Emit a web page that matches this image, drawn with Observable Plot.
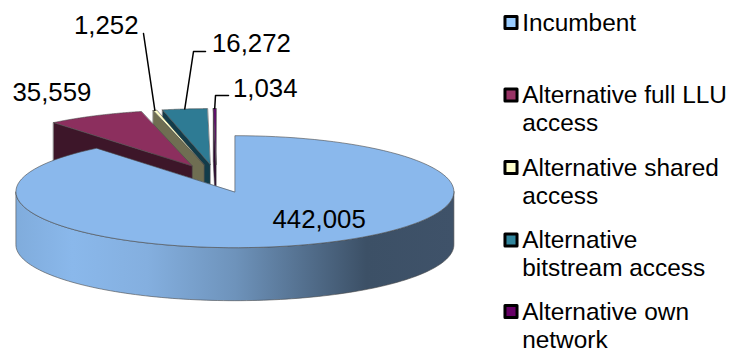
<!DOCTYPE html>
<html>
<head>
<meta charset="utf-8">
<style>
  html, body { margin: 0; padding: 0; background: #fff; }
  svg { display: block; }
</style>
<script src="https://cdn.jsdelivr.net/npm/d3@7"></script>
<script src="https://cdn.jsdelivr.net/npm/@observablehq/plot@0.6"></script>
</head>
<body>
<script>
// Broadband lines by access type
const categories = ["Incumbent", "Alternative full LLU access", "Alternative shared access", "Alternative bitstream access", "Alternative own network"];
const lines = [442005, 35559, 1252, 16272, 1034];

// Face colours per category
const topColors = ["#8ab8ec", "#8c2f5e", "#fdfdc6", "#2e7b94", "#5f0f6a"];
const wallColors = ["url(#rim)", "#3d1629", "#6f6e52", "#123c4a", "#2d0a30"];
const swatchColors = ["#99ccff", "#993366", "#ffffcc", "#31859c", "#660066"];

// Legend wording, wrapped per line
const legendLines = [["Incumbent"], ["Alternative full LLU", "access"], ["Alternative shared", "access"], ["Alternative", "bitstream access"], ["Alternative own", "network"]];

// Pie projection, in pixels
const cx = 216, cy = 178, rx = 219, ry = 56, depth = 53, explode = 0.25;
const legendRowY = [22, 94.5, 167, 239.5, 311];
const legendLead = 28;
const fmt = d3.format(",");

const slices = d3.pie().sort(null)(lines).map((s, i) => {
  const mid = (s.startAngle + s.endAngle) / 2;
  return {
    i,
    a0: s.startAngle,
    a1: s.endAngle,
    ox: cx + rx * explode * Math.sin(mid),
    oy: cy - ry * explode * Math.cos(mid)
  };
});

const rimPoint = (s, a, drop = 0) => ({
  x: s.ox + rx * Math.sin(a),
  y: s.oy - ry * Math.cos(a) + drop
});
const arc = (s, from, to, drop = 0) =>
  d3.range(0, 121).map((k) => rimPoint(s, from + (to - from) * k / 120, drop));

// Back slices are painted first so nearer ones overlap them
const paintOrder = [4, 3, 2, 1, 0];
const faceMarks = paintOrder.flatMap((i) => {
  const s = slices[i];
  const apex = { x: s.ox, y: s.oy };
  const line = (points, fill) =>
    Plot.line(points, { x: "x", y: "y", curve: "linear-closed", fill, stroke: "#4a4a4a", strokeWidth: 0.6, strokeLinejoin: "round" });
  const marks = [];
  if (i === 0) {
    const front = arc(s, Math.PI / 2, 3 * Math.PI / 2);
    marks.push(line([...front, ...arc(s, 3 * Math.PI / 2, Math.PI / 2, depth)], wallColors[i]));
  } else {
    const outer = rimPoint(s, s.a0);
    marks.push(line([outer, apex, { x: apex.x, y: apex.y + depth }, { x: outer.x, y: outer.y + depth }], wallColors[i]));
  }
  marks.push(line([apex, ...arc(s, s.a0, s.a1)], topColors[i]));
  return marks;
});

// Hand-placed labels and their leader lines
const pieLabels = [
  { i: 0, x: 272, y: 227 },
  { i: 1, x: 12, y: 100 },
  { i: 2, x: 73.5, y: 33 },
  { i: 3, x: 211.5, y: 51 },
  { i: 4, x: 232.5, y: 96 }
].map((d) => ({ ...d, text: fmt(lines[d.i]) }));

const midRim = (i) => rimPoint(slices[i], (slices[i].a0 + slices[i].a1) / 2);
const leaders = [
  [{ x: 143, y: 33 }, midRim(2)],
  [{ x: 205, y: 51 }, { x: 193, y: 51 }, midRim(3)],
  [{ x: 228, y: 95 }, { x: 215, y: 95 }, midRim(4)]
];

const legendRows = categories.map((name, i) => ({ name, i, y: legendRowY[i] }));
const legendText = legendRows.flatMap((r) =>
  legendLines[r.i].map((text, k) => ({ text, y: r.y + 8 + k * legendLead }))
);

const rimGradient = () => {
  const defs = d3.create("svg:defs");
  const g = defs.append("linearGradient").attr("id", "rim").attr("x1", 0).attr("x2", 1).attr("y1", 0).attr("y2", 0);
  [[0, "#80acdc"], [0.13, "#8ab8eb"], [0.3, "#84afdf"], [0.5, "#6e93bb"], [0.8, "#3c5066"], [1, "#3f5269"]].forEach(([o, c]) =>
    g.append("stop").attr("offset", o).attr("stop-color", c));
  return defs.node();
};

const font = { fontFamily: "'Liberation Sans', Arial, sans-serif" };

document.body.append(Plot.plot({
  width: 731,
  height: 350,
  margin: 0,
  x: { axis: null, domain: [0, 731], range: [0, 731] },
  y: { axis: null, domain: [0, 350], range: [0, 350] },
  style: { background: "#fff", ...font },
  marks: [
    rimGradient,
    ...faceMarks,
    ...leaders.map((pts) => Plot.line(pts, { x: "x", y: "y", stroke: "#000", strokeWidth: 1.5 })),
    Plot.text(pieLabels, { x: "x", y: "y", text: "text", textAnchor: "start", lineAnchor: "bottom", fontSize: 25.8, fill: "#000" }),
    Plot.dot(legendRows, { x: () => 510.5, y: "y", symbol: "square", r: 6.8, fill: (d) => swatchColors[d.i], stroke: "#000", strokeWidth: 3, strokeLinejoin: "round" }),
    Plot.text(legendText, { x: () => 521.7, y: "y", text: "text", textAnchor: "start", lineAnchor: "bottom", fontSize: 24.4, fill: "#000" })
  ]
}));
</script>
</body>
</html>
